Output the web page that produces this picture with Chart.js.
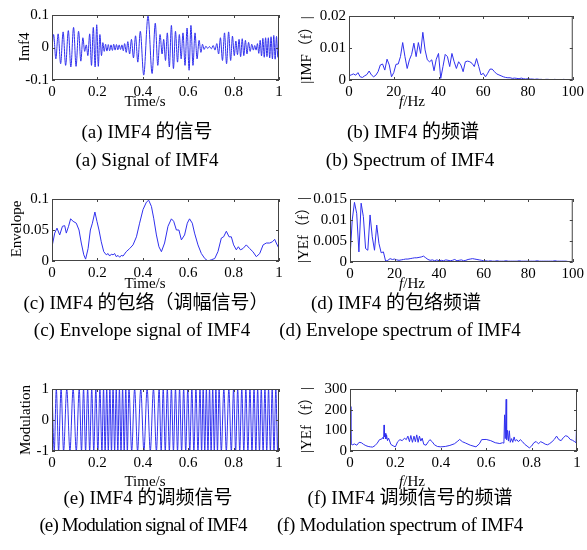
<!DOCTYPE html>
<html lang="zh">
<head>
<meta charset="UTF-8">
<title>IMF4 信号分析</title>
<script src="https://cdn.jsdelivr.net/npm/chart.js"></script>
<style>
  body { margin: 0; background: #fff; }
  #fig { position: relative; width: 587px; height: 550px; overflow: hidden;
         font-family: "Liberation Serif", "Noto Sans CJK SC", serif; color: #000; }
  canvas { position: absolute; }
  .t { position: absolute; width: 300px; text-align: center; white-space: nowrap; }
  .cap { font-size: 19px; line-height: 22px; }
  .ax { font-size: 15px; line-height: 16px; }
  .yl { position: absolute; width: 120px; text-align: center; white-space: nowrap;
        font-size: 15px; line-height: 16px; transform: rotate(-90deg); }
</style>
</head>
<body>
<div id="fig">
  <canvas id="cA" width="290" height="110" style="left:0;top:0"></canvas>
  <canvas id="cB" width="297" height="110" style="left:290px;top:0"></canvas>
  <canvas id="cC" width="290" height="100" style="left:0;top:185px"></canvas>
  <canvas id="cD" width="297" height="100" style="left:290px;top:185px"></canvas>
  <canvas id="cE" width="290" height="100" style="left:0;top:375px"></canvas>
  <canvas id="cF" width="297" height="100" style="left:290px;top:375px"></canvas>

  <!-- y axis titles -->
  <div class="yl" style="left:-36px;top:39px">Imf4</div>
  <div class="yl" style="left:246px;top:42px">|IMF（f）|</div>
  <div class="yl" style="left:-44px;top:221px">Envelope</div>
  <div class="yl" style="left:243px;top:222px">|YEf（f）|</div>
  <div class="yl" style="left:-35px;top:412px">Modulation</div>
  <div class="yl" style="left:246px;top:412px">|YEf（f）|</div>

  <!-- x axis titles -->
  <div class="t ax" style="left:-5px;top:93px">Time/s</div>
  <div class="t ax" style="left:262px;top:93px"><i>f</i>/Hz</div>
  <div class="t ax" style="left:-5px;top:275px">Time/s</div>
  <div class="t ax" style="left:262px;top:275px"><i>f</i>/Hz</div>
  <div class="t ax" style="left:-5px;top:473px">Time/s</div>
  <div class="t ax" style="left:262px;top:473px"><i>f</i>/Hz</div>

  <!-- captions -->
  <div class="t cap" style="left:-3px;top:121px">(a) IMF4 的信号</div>
  <div class="t cap" style="left:-3px;top:149px">(a) Signal of IMF4</div>
  <div class="t cap" style="left:263px;top:121px">(b) IMF4 的频谱</div>
  <div class="t cap" style="left:260px;top:149px">(b) Spectrum of IMF4</div>
  <div class="t cap" style="left:-4px;top:292px">(c) IMF4 的包络（调幅信号）</div>
  <div class="t cap" style="left:-8px;top:319px">(c) Envelope signal of IMF4</div>
  <div class="t cap" style="left:246px;top:292px">(d) IMF4 的包络频谱</div>
  <div class="t cap" style="left:250px;top:319px">(d) Envelope spectrum of IMF4</div>
  <div class="t cap" style="left:-2px;top:487px">(e) IMF4 的调频信号</div>
  <div class="t cap" style="left:-7px;top:514px;letter-spacing:-0.9px">(e) Modulation signal of IMF4</div>
  <div class="t cap" style="left:260px;top:487px">(f) IMF4 调频信号的频谱</div>
  <div class="t cap" style="left:250px;top:514px;letter-spacing:-0.3px">(f) Modulation spectrum of IMF4</div>
</div>

<script>
// (a) IMF4 信号 - 极值点
const imfT = [0.000,0.007,0.017,0.027,0.038,0.049,0.060,0.072,0.083,0.095,
  0.106,0.117,0.127,0.136,0.144,0.151,0.158,0.166,0.174,0.182,
  0.190,0.197,0.204,0.211,0.218,0.224,0.230,0.236,0.242,0.248,
  0.254,0.260,0.266,0.272,0.278,0.284,0.290,0.296,0.302,0.308,
  0.314,0.320,0.327,0.334,0.342,0.350,0.359,0.368,0.378,0.389,
  0.404,0.423,0.441,0.455,0.466,0.476,0.485,0.492,0.500,0.508,
  0.517,0.526,0.535,0.544,0.553,0.561,0.569,0.577,0.586,0.595,
  0.604,0.612,0.621,0.630,0.639,0.648,0.656,0.663,0.670,0.678,
  0.686,0.694,0.702,0.710,0.718,0.726,0.734,0.742,0.751,0.760,
  0.769,0.778,0.787,0.795,0.803,0.810,0.817,0.824,0.831,0.838,
  0.845,0.852,0.859,0.866,0.873,0.880,0.887,0.893,0.899,0.905,
  0.911,0.917,0.923,0.929,0.935,0.941,0.947,0.953,0.959,0.965,
  0.971,0.977,0.983,0.989,0.995,1.000];
const imfV = [0.000,0.040,-0.035,0.042,-0.050,0.048,-0.055,0.052,-0.060,0.062,
  -0.058,0.050,-0.042,0.030,-0.012,0.008,-0.025,0.042,-0.055,0.062,
  -0.060,0.070,-0.058,0.040,-0.025,0.015,-0.012,0.010,-0.011,0.009,
  -0.010,0.008,-0.009,0.010,-0.008,0.009,-0.007,0.008,-0.006,0.008,
  -0.010,0.012,-0.015,0.018,-0.020,0.025,-0.032,0.036,-0.045,0.050,
  -0.085,0.097,-0.080,0.075,-0.055,0.040,-0.020,0.025,-0.040,0.045,
  -0.060,0.068,-0.065,0.050,-0.045,0.040,-0.035,0.045,-0.055,0.060,
  -0.070,0.068,-0.055,0.045,-0.035,0.022,-0.015,0.010,-0.006,0.004,
  -0.003,0.003,-0.004,0.006,-0.008,0.012,-0.020,0.030,-0.040,0.045,
  -0.050,0.048,-0.040,0.035,-0.025,0.020,-0.022,0.025,-0.028,0.027,
  -0.025,0.022,-0.020,0.016,-0.012,0.010,-0.008,0.006,-0.008,0.012,
  -0.018,0.022,-0.026,0.028,-0.030,0.030,-0.028,0.030,-0.032,0.033,
  -0.035,0.037,-0.036,0.034,-0.030,0.020];

// (b) IMF4 频谱, 0..100 Hz 每 1 Hz
const imfSpec = [0.0013,0.0016,0.0019,0.0015,0.0023,0.0010,0.0008,0.0013,0.0017,0.0028,
  0.0016,0.0010,0.0015,0.0026,0.0047,0.0050,0.0031,0.0065,0.0047,0.0010,
  0.0023,0.0049,0.0050,0.0073,0.0117,0.0073,0.0036,0.0063,0.0080,0.0115,
  0.0073,0.0117,0.0083,0.0149,0.0094,0.0063,0.0057,0.0063,0.0029,0.0065,
  0.0083,0.0005,0.0042,0.0080,0.0073,0.0042,0.0083,0.0057,0.0036,0.0057,
  0.0047,0.0026,0.0057,0.0059,0.0057,0.0052,0.0042,0.0067,0.0042,0.0016,
  0.0021,0.0010,0.0021,0.0034,0.0034,0.0026,0.0019,0.0016,0.0013,0.0010,
  0.0008,0.0007,0.0007,0.0005,0.0006,0.0005,0.0004,0.0006,0.0004,0.0003,
  0.0004,0.0003,0.0003,0.0002,0.0003,0.0002,0.0002,0.0001,0.0002,0.0002,
  0.0001,0.0001,0.0002,0.0001,0.0001,0.0001,0.0002,0.0001,0.0001,0.0001,0.0002];

// (c) 包络
const envT = [0.000,0.012,0.022,0.034,0.046,0.056,0.063,0.073,0.082,0.093,
  0.107,0.119,0.129,0.140,0.148,0.159,0.169,0.178,0.189,0.198,
  0.207,0.217,0.228,0.239,0.247,0.254,0.261,0.269,0.276,0.283,
  0.291,0.298,0.305,0.313,0.327,0.342,0.357,0.372,0.386,0.401,
  0.416,0.426,0.438,0.448,0.460,0.471,0.482,0.496,0.511,0.526,
  0.536,0.548,0.559,0.570,0.584,0.596,0.606,0.618,0.628,0.643,
  0.658,0.673,0.687,0.702,0.717,0.731,0.746,0.756,0.768,0.780,
  0.790,0.800,0.812,0.821,0.830,0.841,0.856,0.871,0.885,0.900,
  0.915,0.930,0.944,0.959,0.971,0.981,0.988,1.000];
const envV = [0.023,0.045,0.053,0.042,0.056,0.057,0.045,0.056,0.068,0.064,
  0.061,0.050,0.029,0.010,0.003,0.020,0.050,0.061,0.079,0.064,
  0.050,0.031,0.015,0.010,0.012,0.008,0.011,0.010,0.012,0.007,
  0.009,0.006,0.009,0.008,0.015,0.020,0.026,0.039,0.061,0.083,
  0.095,0.098,0.088,0.069,0.042,0.023,0.015,0.029,0.056,0.068,
  0.064,0.050,0.050,0.034,0.042,0.061,0.068,0.061,0.045,0.026,
  0.012,0.004,0.000,0.002,0.004,0.015,0.037,0.039,0.048,0.039,
  0.039,0.026,0.018,0.023,0.018,0.020,0.026,0.020,0.015,0.007,
  0.012,0.026,0.029,0.029,0.031,0.035,0.029,0.020];

// (d) 包络频谱, 0..100 Hz
const envSpec = [0.0010,0.0100,0.0142,0.0116,0.0024,0.0140,0.0108,0.0032,0.0028,0.0112,
  0.0060,0.0028,0.0088,0.0044,0.0022,0.0024,0.0002,0.0004,0.0008,0.0006,
  0.0007,0.0005,0.0004,0.0005,0.0006,0.0007,0.0007,0.0008,0.0009,0.0010,
  0.0010,0.0011,0.0012,0.0014,0.0010,0.0006,0.0004,0.0005,0.0003,0.0005,
  0.0003,0.0004,0.0003,0.0005,0.0004,0.0003,0.0004,0.0006,0.0003,0.0004,
  0.0005,0.0003,0.0004,0.0006,0.0007,0.0008,0.0007,0.0006,0.0005,0.0004,
  0.0003,0.0003,0.0002,0.0003,0.0002,0.0002,0.0003,0.0002,0.0002,0.0002,
  0.0003,0.0002,0.0002,0.0002,0.0002,0.0002,0.0003,0.0002,0.0002,0.0002,
  0.0002,0.0002,0.0002,0.0002,0.0003,0.0002,0.0002,0.0002,0.0002,0.0002,
  0.0002,0.0002,0.0003,0.0002,0.0002,0.0002,0.0002,0.0002,0.0001,0.0001,0.0001];

// (e) 调频信号 - 极值点
const modT = [0.000,0.010,0.019,0.029,0.040,0.051,0.065,0.079,0.093,0.107,
  0.120,0.130,0.139,0.148,0.157,0.166,0.175,0.184,0.193,0.202,
  0.211,0.220,0.227,0.234,0.241,0.248,0.255,0.262,0.269,0.276,
  0.283,0.290,0.297,0.304,0.311,0.318,0.325,0.332,0.339,0.351,
  0.364,0.377,0.391,0.405,0.419,0.433,0.447,0.460,0.472,0.481,
  0.490,0.499,0.508,0.517,0.526,0.535,0.544,0.553,0.562,0.571,
  0.580,0.589,0.598,0.607,0.616,0.625,0.634,0.643,0.652,0.659,
  0.666,0.673,0.680,0.687,0.694,0.701,0.708,0.715,0.722,0.729,
  0.736,0.746,0.757,0.768,0.779,0.790,0.800,0.809,0.818,0.827,
  0.836,0.845,0.854,0.863,0.872,0.881,0.890,0.898,0.906,0.914,
  0.922,0.930,0.938,0.946,0.954,0.962,0.970,0.978,0.986,0.994,1.000];
const modV = [1,-1,1,-1,1,-1,1,-1,1,-1,
  1,-1,1,-1,1,-1,1,-1,1,-1,
  1,-1,1,-1,1,-1,1,-1,1,-1,
  1,-1,1,-1,1,-1,1,-1,1,-1,
  1,-1,1,-1,1,-1,1,-1,1,-1,
  1,-1,1,-1,1,-1,1,-1,1,-1,
  1,-1,1,-1,1,-1,1,-1,1,-1,
  1,-1,1,-1,1,-1,1,-1,1,-1,
  1,-1,1,-1,1,-1,1,-1,1,-1,
  1,-1,1,-1,1,-1,1,-1,1,-1,
  1,-1,1,-1,1,-1,1,-1,1,-1,1];

// (f) 调频信号频谱
const modSpecF = [0,0.004,0.01,0.02,0.03,0.04,0.05,0.06,0.07,0.08,
  0.09,0.10,0.11,0.12,0.13,0.14,0.145,0.148,0.150,0.152,
  0.155,0.158,0.161,0.165,0.170,0.180,0.190,0.200,0.210,0.220,
  0.230,0.240,0.248,0.255,0.262,0.268,0.275,0.282,0.288,0.294,
  0.300,0.306,0.312,0.318,0.325,0.335,0.345,0.352,0.362,0.372,
  0.385,0.40,0.42,0.44,0.46,0.475,0.483,0.495,0.51,0.53,
  0.555,0.57,0.58,0.60,0.62,0.64,0.66,0.672,0.678,0.681,
  0.684,0.688,0.690,0.694,0.698,0.702,0.706,0.712,0.717,0.723,
  0.728,0.735,0.742,0.75,0.76,0.77,0.78,0.79,0.80,0.81,
  0.82,0.83,0.84,0.85,0.86,0.87,0.88,0.89,0.90,0.91,
  0.92,0.93,0.94,0.95,0.96,0.97,0.98,0.99,0.996,1.0];
const modSpecV = [215,35,30,34,28,42,40,32,26,22,
  20,19,26,38,55,58,66,58,126,68,
  85,58,78,50,62,32,25,20,45,55,
  50,62,55,72,45,75,42,72,45,78,
  42,72,48,62,32,28,45,55,45,30,
  22,20,22,27,35,48,56,45,38,28,
  20,35,55,56,50,40,36,40,38,175,
  60,250,55,100,48,98,42,60,42,68,
  48,55,45,55,45,32,24,15,24,40,
  46,35,45,40,33,30,36,45,56,72,
  55,50,65,74,70,56,52,45,40,200];

const lineBlue = '#3030ee';
const tickFont = { family: 'Liberation Serif', size: 15 };

const zip = (xs, ys) => xs.map((x, i) => ({ x: x, y: ys[i] }));
const byIndex = ys => ys.map((y, i) => ({ x: i, y: y }));

// MATLAB-style box with inward ticks
const boxPlugin = {
  id: 'box',
  afterDatasetsDraw(chart) {
    const { ctx, chartArea: a, scales } = chart;
    ctx.save();
    ctx.strokeStyle = '#444';
    ctx.lineWidth = 1;
    ctx.strokeRect(a.left + 0.5, a.top + 0.5, a.right - a.left - 1, a.bottom - a.top - 1);
    ctx.beginPath();
    scales.x.ticks.forEach(t => {
      const p = Math.round(scales.x.getPixelForValue(t.value)) + 0.5;
      ctx.moveTo(p, a.bottom); ctx.lineTo(p, a.bottom - 3);
      ctx.moveTo(p, a.top); ctx.lineTo(p, a.top + 3);
    });
    scales.y.ticks.forEach(t => {
      const p = Math.round(scales.y.getPixelForValue(t.value)) + 0.5;
      ctx.moveTo(a.left, p); ctx.lineTo(a.left + 3, p);
      ctx.moveTo(a.right, p); ctx.lineTo(a.right - 3, p);
    });
    ctx.stroke();
    ctx.restore();
  }
};

const fmt = v => String(Math.round(v * 10000) / 10000);

function plot(id, points, xr, yr, geo, smooth) {
  new Chart(document.getElementById(id), {
    type: 'line',
    data: {
      datasets: [{
        data: points,
        borderColor: lineBlue,
        borderWidth: 1,
        pointRadius: 0,
        fill: false,
        tension: 0,
        cubicInterpolationMode: smooth ? 'monotone' : 'default'
      }]
    },
    options: {
      responsive: false,
      animation: false,
      devicePixelRatio: 1,
      layout: { padding: { left: 0, top: geo.top, right: geo.right, bottom: 0 } },
      plugins: { legend: { display: false }, tooltip: { enabled: false } },
      scales: {
        x: {
          type: 'linear', min: xr[0], max: xr[1],
          border: { display: false },
          grid: { display: false, drawTicks: false },
          ticks: { stepSize: xr[2], padding: 3, color: '#000', font: tickFont,
                   maxRotation: 0, autoSkip: false, callback: fmt },
          afterFit: s => { s.height = geo.xh; }
        },
        y: {
          type: 'linear', min: yr[0], max: yr[1],
          border: { display: false },
          grid: { display: false, drawTicks: false },
          ticks: { stepSize: yr[2], padding: 3, color: '#000', font: tickFont,
                   autoSkip: false, callback: fmt },
          afterFit: s => { s.width = geo.yw; }
        }
      }
    },
    plugins: [boxPlugin]
  });
}

plot('cA', zip(imfT, imfV), [0, 1, 0.2], [-0.1, 0.1, 0.1], { top: 15, right: 11, yw: 52, xh: 30 }, true);
plot('cB', byIndex(imfSpec), [0, 100, 20], [0, 0.02, 0.01], { top: 16, right: 10, yw: 59, xh: 30 }, false);
plot('cC', zip(envT, envV), [0, 1, 0.2], [0, 0.1, 0.05], { top: 14, right: 11, yw: 52, xh: 24 }, false);
plot('cD', byIndex(envSpec), [0, 100, 20], [0, 0.015, 0.005], { top: 14, right: 10, yw: 60, xh: 23 }, false);
plot('cE', zip(modT, modV), [0, 1, 0.2], [-1, 1, 1], { top: 14, right: 11, yw: 52, xh: 24 }, true);
plot('cF', zip(modSpecF, modSpecV), [0, 1, 0.2], [0, 300, 100], { top: 14, right: 10, yw: 60, xh: 24 }, false);
</script>
</body>
</html>
